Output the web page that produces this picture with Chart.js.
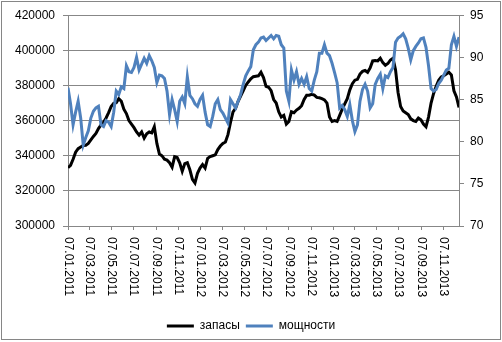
<!DOCTYPE html>
<html>
<head>
<meta charset="utf-8">
<script src="https://cdn.jsdelivr.net/npm/chart.js@4/dist/chart.umd.min.js"></script>
<style>
  html, body { margin: 0; padding: 0; background: #fff; }
  #wrap { width: 502px; height: 342px; }
</style>
</head>
<body>
<div id="wrap"><canvas id="c" width="502" height="342"></canvas></div>
<script>
// Weekly observations starting 07.01.2011
const startDate = '07.01.2011';

// Запасы (left axis)
const zapasy = [
  333200,334500,338000,342000,344000,345000,345800,346000,347000,349000,
  351000,352700,355500,357500,359000,361500,364500,368000,369800,370200,
  372500,371000,366500,364000,360000,358000,356000,353500,351700,353500,
  350000,352500,353500,353000,356500,347000,341000,340000,338000,337500,
  336000,333500,339500,339000,336000,331200,335500,336000,332000,326500,
  324500,330000,333000,335000,333000,338500,339500,340000,340500,343500,
  345500,347000,347800,352000,359000,365000,367000,371000,374000,377000,
  380000,382000,383800,385000,385300,385500,387500,384500,379500,379000,
  377000,372000,370000,365000,362000,363000,358000,359500,365000,364500,
  366000,367000,368500,372000,374500,374500,375000,374500,373200,373000,
  372500,371800,370000,362000,359500,360000,359500,363000,366500,369500,
  372500,377500,381000,383000,383500,386500,388000,388500,387500,390000,
  394000,394200,394000,395500,393000,391500,392500,394500,395500,389000,
  376000,368000,365500,364500,363500,361000,360000,359500,361500,360500,
  358000,356500,362000,370000,375500,379500,383000,384800,385500,386500,
  387500,386000,377000,373500,367500
];

// Мощности (right axis)
const moshchnosti = [
  86.4,84.5,82,83.5,84.8,82.8,79.6,80.5,81.3,82.8,
  83.6,84,84.2,82,81.8,82.5,82.3,81.8,83.5,86,
  85.6,86.5,86.3,89,88.3,88.2,88.8,90,88.5,89.2,
  89.9,89.3,90.2,89.6,88.8,87,87.9,87.8,87.5,86,
  83.2,85,83.8,82.4,84.8,85.3,84.5,87.7,85.5,85.1,
  84.5,84.2,85,85.5,83.5,82,81.8,83,84.5,85,
  83.8,83.4,82.8,82.2,85,84.5,84,84.8,85.6,86.8,
  87.8,88.4,88.9,90.9,91.5,91.8,92.3,92.4,92,92.3,
  92.6,92.2,92.6,92.5,91.5,91.1,86,84.8,88.5,87.3,
  88.3,86.8,87.5,86.8,87.7,86.3,86,87.3,88.3,90.5,
  90.5,91.5,90.5,90.2,89.3,88.2,87,84,84.3,83.8,
  83,84.4,82.5,81.2,82,84.8,86.2,86.8,86,84,
  84.5,86.8,87.5,88,86.3,87.8,87.6,88.3,88.8,91.8,
  92.3,92.5,92.8,92.2,91.1,89.7,90.8,91.3,91.7,92.2,
  92.3,91.2,89,86.3,86,86.2,86.9,87.3,87.9,88.5,
  88.7,91.5,92.5,91.3,92.4
];

// Date labels along the horizontal axis
const tickLabels = [
  '07.01.2011','07.03.2011','07.05.2011','07.07.2011','07.09.2011','07.11.2011',
  '07.01.2012','07.03.2012','07.05.2012','07.07.2012','07.09.2012','07.11.2012',
  '07.01.2013','07.03.2013','07.05.2013','07.07.2013','07.09.2013','07.11.2013'
];

const seriesNames = ['запасы', 'мощности'];

// ---- helpers ----
function dayNumber(s) {
  const [d, m, y] = s.split('.').map(Number);
  return Date.UTC(y, m - 1, d) / 86400000;
}
const day0 = dayNumber(startDate);
const tickDays = tickLabels.map(s => dayNumber(s) - day0);
const toPoints = arr => arr.map((v, i) => ({ x: i * 7, y: v }));
const lastDay = (zapasy.length - 1) * 7;

const FONT = 'Liberation Sans';
const GRID = '#878787';
Chart.defaults.font.family = FONT;
Chart.defaults.font.size = 12;
Chart.defaults.color = '#000';

// Frame around the whole chart
const framePlugin = {
  id: 'frame',
  beforeDraw(chart) {
    const ctx = chart.ctx;
    ctx.save();
    ctx.fillStyle = '#fff';
    ctx.fillRect(0, 0, chart.width, chart.height);
    ctx.strokeStyle = '#868686';
    ctx.lineWidth = 1;
    ctx.strokeRect(1.5, 1.5, 499, 338);
    ctx.restore();
  }
};

// Date labels written top-to-bottom under each tick
const dateLabelPlugin = {
  id: 'dateLabels',
  afterDraw(chart) {
    const xs = chart.scales.x;
    const ctx = chart.ctx;
    ctx.save();
    ctx.font = '12px "' + FONT + '"';
    ctx.fillStyle = '#000';
    ctx.textAlign = 'left';
    ctx.textBaseline = 'middle';
    tickLabels.forEach((lab, i) => {
      const px = xs.getPixelForValue(tickDays[i]);
      ctx.save();
      ctx.translate(px, xs.top + 11);
      ctx.rotate(Math.PI / 2);
      ctx.fillText(lab, 0, 0);
      ctx.restore();
    });
    ctx.restore();
  }
};

new Chart(document.getElementById('c'), {
  type: 'line',
  data: {
    datasets: [
      {
        label: seriesNames[0],
        data: toPoints(zapasy),
        yAxisID: 'y',
        borderColor: '#000000',
        backgroundColor: '#000000',
        borderWidth: 3,
        pointRadius: 0,
        tension: 0,
        order: 2
      },
      {
        label: seriesNames[1],
        data: toPoints(moshchnosti),
        yAxisID: 'y1',
        borderColor: '#4F81BD',
        backgroundColor: '#4F81BD',
        borderWidth: 3,
        pointRadius: 0,
        tension: 0,
        order: 1
      }
    ]
  },
  options: {
    responsive: false,
    animation: false,
    devicePixelRatio: 1,
    layout: { padding: { left: 0, right: 0, top: 15, bottom: 0 } },
    plugins: {
      tooltip: { enabled: false },
      legend: {
        position: 'bottom',
        labels: {
          usePointStyle: true,
          pointStyle: 'line',
          pointStyleWidth: 27,
          padding: 6,
          color: '#000',
          font: { size: 12 },
          sort: (a, b) => a.datasetIndex - b.datasetIndex
        }
      }
    },
    scales: {
      x: {
        type: 'linear',
        position: 'bottom',
        min: 0,
        max: lastDay,
        afterBuildTicks: s => { s.ticks = tickDays.map(v => ({ value: v })); },
        afterFit: s => { s.height = 88; },
        ticks: { display: false },
        grid: { drawOnChartArea: false, drawTicks: true, tickLength: 4, color: GRID },
        border: { display: true, color: GRID }
      },
      y: {
        position: 'left',
        min: 300000,
        max: 420000,
        afterFit: s => { s.width = 68; },
        ticks: { stepSize: 20000, padding: 8, color: '#000', font: { size: 12 }, callback: v => String(v) },
        grid: { color: GRID, tickLength: 5 },
        border: { display: true, color: GRID }
      },
      y1: {
        position: 'right',
        min: 70,
        max: 95,
        afterFit: s => { s.width = 43; },
        ticks: { stepSize: 5, padding: 6, color: '#000', font: { size: 12 }, callback: v => String(v) },
        grid: { drawOnChartArea: false, color: GRID, tickLength: 5 },
        border: { display: true, color: GRID }
      }
    }
  },
  plugins: [framePlugin, dateLabelPlugin]
});
</script>
</body>
</html>
